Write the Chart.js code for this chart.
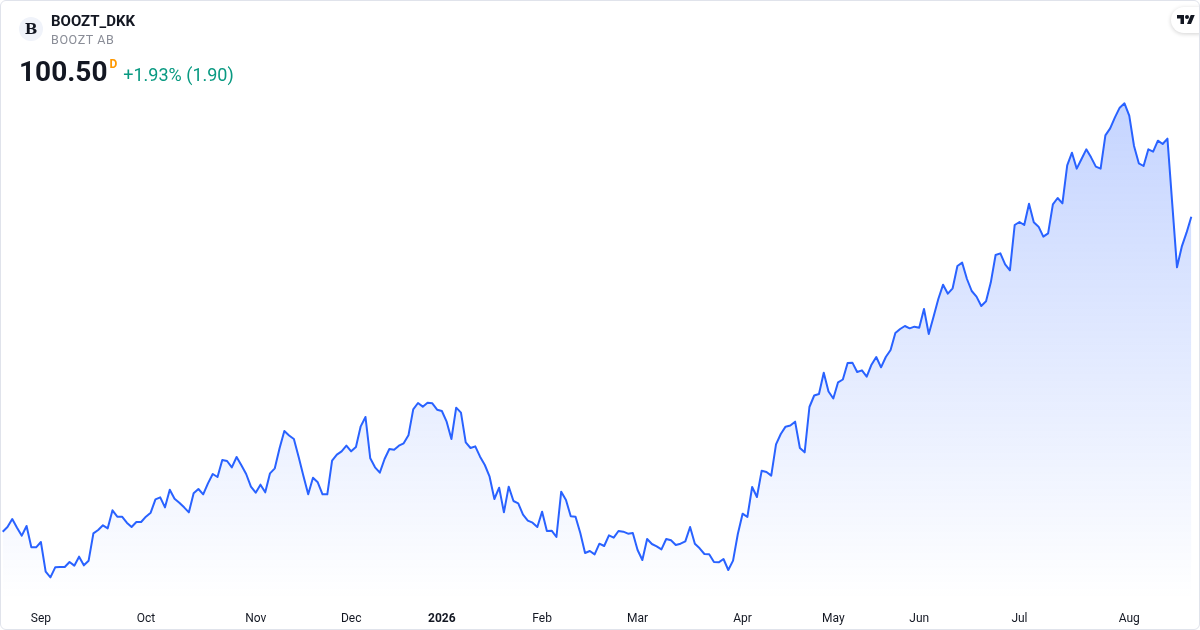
<!DOCTYPE html>
<html>
<head>
<meta charset="utf-8">
<title>BOOZT_DKK</title>
<script src="https://cdn.jsdelivr.net/npm/chart.js@4.4.1/dist/chart.umd.min.js"></script>
<style>
  html, body { margin: 0; padding: 0; background: #fff; }
  #wrap { position: relative; width: 1200px; height: 630px; overflow: hidden; font-family: Roboto, "Noto Sans", sans-serif; }
  #priceChart { position: absolute; left: 0; top: 0; width: 1200px; height: 630px; }
  #frame { position: absolute; inset: 0; border: 1px solid #e0e3eb; border-radius: 6px; box-sizing: border-box; pointer-events: none; }
  .logo { position: absolute; left: 19px; top: 17px; width: 24px; height: 24px; border-radius: 50%; background: #f0f3fa;
          font: bold 15px "DejaVu Serif", "Liberation Serif", serif; color: #131722; text-align: center; line-height: 24px; }
  .symbol { position: absolute; left: 51px; top: 12px; font-size: 15px; line-height: 18px; font-weight: bold; color: #131722; }
  .name { position: absolute; left: 51px; top: 32px; font-size: 12.5px; line-height: 16px; color: #8a8d97; letter-spacing: 0.6px; }
  .quote { position: absolute; left: 19px; top: 55px; display: flex; align-items: baseline; white-space: nowrap; }
  .last { font-size: 28px; font-weight: bold; color: #131722; line-height: 34px; }
  .tf { font-size: 12px; font-weight: bold; color: #ff9800; align-self: flex-start; margin: 2px 0 0 2px; }
  .chg { font-size: 18px; color: #089981; margin-left: 6px; }
  .tv { position: absolute; left: 1171px; top: 7px; width: 40px; height: 26px; border-radius: 13px; background: #fff;
        box-shadow: 0 1px 4px rgba(0,0,0,0.18); }
  .tv svg { position: absolute; left: 6px; top: 8px; }
</style>
</head>
<body>
<div id="wrap">
  <canvas id="priceChart" width="1200" height="630"></canvas>
  <div class="logo">B</div>
  <div class="symbol">BOOZT_DKK</div>
  <div class="name">BOOZT AB</div>
  <div class="quote">
    <span class="last">100.50</span><span class="tf">D</span><span class="chg">+1.93% (1.90)</span>
  </div>
  <div class="tv">
    <svg width="18" height="10" viewBox="0 0 36 20">
      <path d="M14 18H7V7H0V0h14v18z M28 18h-8L27.5 0h8L28 18z" fill="#131722"/>
      <circle cx="20" cy="4" r="4" fill="#131722"/>
    </svg>
  </div>
  <div id="frame"></div>
</div>
<script>
/// === DATA === ///
// daily closes, late Aug 2025 -> mid Aug 2026
const closes = [
  62.70, 63.26, 64.22, 63.18, 62.22, 63.38, 60.82, 60.82, 61.46, 57.90,
  57.22, 58.42, 58.46, 58.46, 59.06, 58.62, 59.70, 58.66, 59.22, 62.50,
  62.90, 63.46, 63.10, 65.26, 64.50, 64.50, 63.78, 63.26, 63.86, 63.86,
  64.50, 64.98, 66.58, 66.82, 65.62, 67.74, 66.66, 66.18, 65.62, 65.02,
  67.30, 67.82, 67.18, 68.50, 69.62, 69.26, 71.30, 71.18, 70.42, 71.66,
  70.66, 69.62, 68.10, 67.38, 68.34, 67.42, 69.70, 70.30, 72.70, 74.78,
  74.24, 73.82, 71.66, 69.38, 67.18, 69.18, 68.62, 67.18, 67.18, 71.22,
  71.94, 72.34, 73.02, 72.34, 72.86, 75.34, 76.46, 71.50, 70.42, 69.78,
  71.42, 72.62, 72.54, 73.02, 73.30, 74.26, 77.38, 78.14, 77.70, 78.18,
  78.10, 77.34, 77.18, 75.90, 73.82, 77.58, 76.98, 73.42, 72.74, 72.94,
  71.70, 70.70, 69.30, 66.62, 67.98, 65.02, 68.10, 66.38, 66.10, 64.74,
  64.02, 63.78, 63.26, 65.10, 62.78, 62.82, 62.06, 67.50, 66.50, 64.54,
  64.50, 62.54, 60.14, 60.38, 59.98, 61.26, 60.98, 62.26, 61.98, 62.78,
  62.70, 62.46, 62.54, 60.50, 59.30, 61.82, 61.22, 60.94, 60.58, 61.82,
  61.66, 61.10, 61.26, 61.54, 63.26, 61.26, 60.70, 60.02, 59.98, 59.06,
  59.02, 59.42, 58.10, 59.22, 62.42, 64.86, 64.46, 68.06, 66.86, 70.02,
  69.86, 69.42, 73.18, 74.42, 75.30, 75.44, 75.90, 72.74, 72.22, 77.66,
  79.04, 79.22, 81.78, 79.52, 78.68, 80.62, 80.96, 82.94, 82.98, 81.86,
  82.06, 81.30, 82.74, 83.66, 82.42, 83.66, 84.50, 86.54, 87.02, 87.38,
  87.10, 87.30, 87.18, 89.42, 86.42, 88.50, 90.62, 92.34, 91.26, 91.90,
  94.58, 94.98, 93.02, 91.58, 90.90, 89.78, 90.34, 92.62, 95.90, 96.10,
  94.78, 94.06, 99.50, 99.86, 99.50, 102.06, 99.82, 99.30, 98.10, 98.50,
  101.98, 102.74, 102.10, 106.66, 108.18, 106.26, 107.42, 108.58, 107.62, 106.50,
  106.26, 110.26, 111.10, 112.42, 113.58, 114.10, 112.62, 108.98, 106.90, 106.58,
  108.58, 108.30, 109.62, 109.22, 109.86, 102.10, 94.42, 96.90, 98.58, 100.50
];

// bar index of the first session of each month
const tickIndex = [8, 30, 53, 73, 92, 113, 133, 155, 174, 192, 213, 236];
const tickLabels = ['Sep', 'Oct', 'Nov', 'Dec', '2026', 'Feb', 'Mar', 'Apr', 'May', 'Jun', 'Jul', 'Aug'];
const yearTick = '2026';

/// === CHART === ///
const areaFill = ctx => {
  const area = ctx.chart.chartArea;
  if (!area) {
    return 'rgba(41, 98, 255, 0.1)';
  }
  const g = ctx.chart.ctx.createLinearGradient(0, area.top, 0, area.bottom);
  g.addColorStop(0, 'rgba(41, 98, 255, 0.28)');
  g.addColorStop(1, 'rgba(41, 98, 255, 0)');
  return g;
};

new Chart(
  document.getElementById('priceChart'),
  {
    type: 'line',
    data: {
      datasets: [
        {
          label: 'BOOZT_DKK',
          data: closes.map((c, i) => ({ x: i, y: c })),
          borderColor: '#2962ff',
          borderWidth: 2,
          borderJoinStyle: 'round',
          pointRadius: 0,
          tension: 0,
          fill: 'start',
          backgroundColor: areaFill
        }
      ]
    },
    options: {
      responsive: false,
      animation: false,
      devicePixelRatio: 1,
      layout: { padding: { top: 90, left: 0, right: 0, bottom: 0 } },
      plugins: {
        legend: { display: false },
        tooltip: { enabled: false }
      },
      scales: {
        x: {
          type: 'linear',
          min: -0.566,
          max: 250.82,
          grid: { display: false, drawTicks: false },
          border: { display: false },
          afterBuildTicks: scale => {
            scale.ticks = tickIndex.map(v => ({ value: v }));
          },
          afterFit: scale => {
            scale.height = 30;
          },
          ticks: {
            autoSkip: false,
            maxRotation: 0,
            padding: 12,
            color: '#131722',
            font: ctx => ({
              family: 'Roboto, "Noto Sans", sans-serif',
              size: 12,
              weight: ctx.tick && tickLabels[tickIndex.indexOf(ctx.tick.value)] === yearTick ? 'bold' : 'normal'
            }),
            callback: value => {
              const k = tickIndex.indexOf(value);
              return k >= 0 ? tickLabels[k] : '';
            }
          }
        },
        y: {
          display: false,
          min: 54.5,
          max: 115.7
        }
      }
    }
  }
);
</script>
</body>
</html>
